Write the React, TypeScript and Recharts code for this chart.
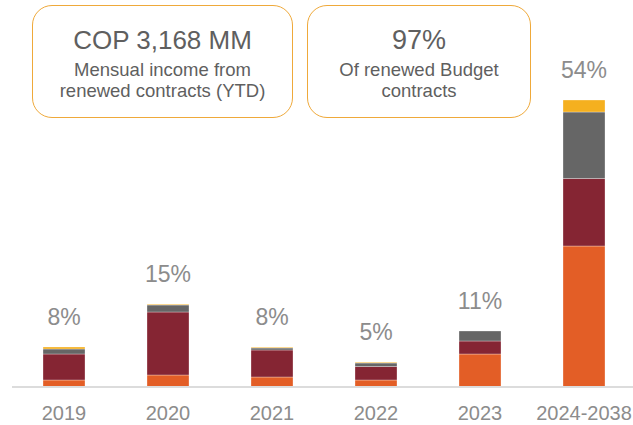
import React from "react";
import { ComposedChart, Bar, Line, XAxis, YAxis, LabelList } from "recharts";

const categories = ["2019", "2020", "2021", "2022", "2023", "2024-2038"];
const orangeValues = [7, 12, 10, 7, 33, 141];
const redValues = [26, 63, 27, 13.5, 13, 67.5];
const grayValues = [5, 7, 2, 3.5, 10, 66.5];
const yellowValues = [2, 0.7, 0.7, 0.7, 0, 12];
const pctLabels = ["8%", "15%", "8%", "5%", "11%", "54%"];

const data = categories.map((c, i) => ({
  name: c,
  orange: orangeValues[i],
  red: redValues[i],
  gray: grayValues[i],
  yellow: yellowValues[i],
  total: orangeValues[i] + redValues[i] + grayValues[i] + yellowValues[i],
  pct: pctLabels[i],
}));

const FONT = '"Liberation Sans", Arial, sans-serif';
const segStroke = "rgba(255,255,255,0.3)";

const PctLabel = (props: any) => {
  const { x, y, value } = props;
  return (
    <text
      x={Number(x)}
      y={Number(y) - 22}
      textAnchor="middle"
      fontSize={23}
      fill="#8c8c8c"
      fontFamily={FONT}
    >
      {value}
    </text>
  );
};

const boxStyle: React.CSSProperties = {
  position: "absolute",
  top: 5,
  height: 113,
  border: "1px solid #EFA93A",
  borderRadius: 20,
  boxSizing: "border-box",
  textAlign: "center",
  color: "#5f5f5f",
  fontFamily: FONT,
  background: "#ffffff",
};

export default function App() {
  return (
    <div
      style={{
        position: "absolute",
        left: 0,
        top: 0,
        width: 633,
        height: 425,
        overflow: "hidden",
        background: "#ffffff",
        fontFamily: FONT,
      }}
    >
      <ComposedChart
        width={640}
        height={425}
        data={data}
        margin={{ top: 87, right: 4, bottom: 0, left: 12 }}
      >
        <YAxis hide domain={[0, 300]} />
        <XAxis
          dataKey="name"
          height={38}
          axisLine={{ stroke: "#dcdcdc", strokeWidth: 2 }}
          tickLine={false}
          tickMargin={13}
          interval={0}
          tick={{ fill: "#8c8c8c", fontSize: 20, fontFamily: FONT }}
        />
        <Bar dataKey="orange" stackId="a" fill="#E35E26" stroke={segStroke} strokeWidth={1} barSize={42} isAnimationActive={false} />
        <Bar dataKey="red" stackId="a" fill="#852533" stroke={segStroke} strokeWidth={1} barSize={42} isAnimationActive={false} />
        <Bar dataKey="gray" stackId="a" fill="#666666" stroke={segStroke} strokeWidth={1} barSize={42} isAnimationActive={false} />
        <Bar dataKey="yellow" stackId="a" fill="#F5B01F" stroke={segStroke} strokeWidth={1} barSize={42} isAnimationActive={false} />
        <Line
          dataKey="total"
          stroke="none"
          dot={false}
          activeDot={false}
          legendType="none"
          isAnimationActive={false}
        >
          <LabelList dataKey="pct" content={PctLabel} />
        </Line>
      </ComposedChart>
      <div style={{ ...boxStyle, left: 32, width: 261 }}>
        <div style={{ fontSize: 26, lineHeight: "26px", marginTop: 21 }}>COP 3,168 MM</div>
        <div style={{ fontSize: 18.5, lineHeight: "21px", marginTop: 6 }}>
          Mensual income from
          <br />
          renewed contracts (YTD)
        </div>
      </div>
      <div style={{ ...boxStyle, left: 307, width: 224 }}>
        <div style={{ fontSize: 27, lineHeight: "27px", marginTop: 21 }}>97%</div>
        <div style={{ fontSize: 18.5, lineHeight: "21px", marginTop: 5 }}>
          Of renewed Budget
          <br />
          contracts
        </div>
      </div>
    </div>
  );
}
